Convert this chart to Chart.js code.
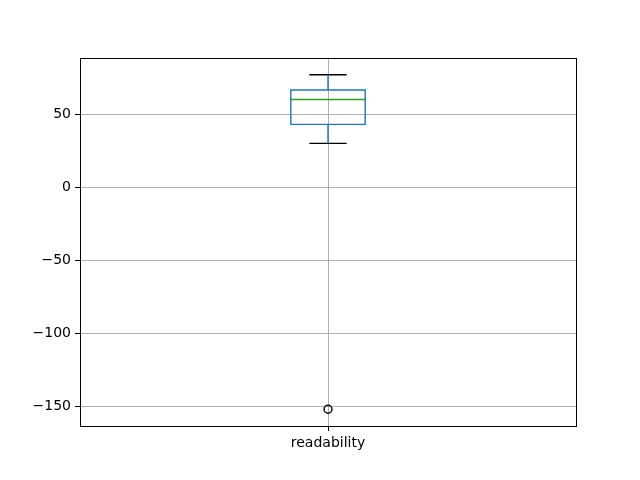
<!DOCTYPE html>
<html>
<head>
<meta charset="utf-8">
<script src="https://cdn.jsdelivr.net/npm/chart.js@4"></script>
<style>
  html, body { margin: 0; padding: 0; background: #fff; }
</style>
</head>
<body>
<canvas id="boxCanvas" width="640" height="480"></canvas>
<script>
// Boxplot stats (one column: readability)
const categories = ['readability'];
const q1 = [43];
const medians = [60];
const q3 = [66.5];
const whiskerLow = [30];
const whiskerHigh = [77];
const outliers = [[-152]];

const yTicks = [-150, -100, -50, 0, 50];

// Chart.js v4 has no boxplot type, so build one out of line segments on a linear x scale
const BOX_HALF = 0.075;
const CAP_HALF = 0.0375;
const LW = 1.4;

const datasets = [];
categories.forEach((name, i) => {
    const x = i + 1;
    // the box
    datasets.push({
        data: [
            { x: x - BOX_HALF, y: q1[i] }, { x: x + BOX_HALF, y: q1[i] },
            { x: x + BOX_HALF, y: q3[i] }, { x: x - BOX_HALF, y: q3[i] },
            { x: x - BOX_HALF, y: q1[i] }
        ],
        borderColor: '#1f77b4', borderWidth: LW
    });
    // median
    datasets.push({
        data: [{ x: x - BOX_HALF, y: medians[i] }, { x: x + BOX_HALF, y: medians[i] }],
        borderColor: '#2ca02c', borderWidth: LW
    });
    // whiskers
    datasets.push({
        data: [{ x: x, y: q1[i] }, { x: x, y: whiskerLow[i] }],
        borderColor: '#1f77b4', borderWidth: LW
    });
    datasets.push({
        data: [{ x: x, y: q3[i] }, { x: x, y: whiskerHigh[i] }],
        borderColor: '#1f77b4', borderWidth: LW
    });
    // caps
    datasets.push({
        data: [{ x: x - CAP_HALF, y: whiskerLow[i] }, { x: x + CAP_HALF, y: whiskerLow[i] }],
        borderColor: '#000', borderWidth: LW
    });
    datasets.push({
        data: [{ x: x - CAP_HALF, y: whiskerHigh[i] }, { x: x + CAP_HALF, y: whiskerHigh[i] }],
        borderColor: '#000', borderWidth: LW
    });
    // fliers
    datasets.push({
        data: outliers[i].map(v => ({ x: x, y: v })),
        showLine: false,
        pointRadius: 4,
        pointStyle: 'circle',
        pointBackgroundColor: 'rgba(0,0,0,0)',
        pointBorderColor: '#000',
        pointBorderWidth: LW
    });
});
datasets.forEach(d => {
    if (d.showLine === undefined) { d.showLine = true; d.pointRadius = 0; }
});

// matplotlib-like frame around the plot area
const framePlugin = {
    id: 'frame',
    afterDatasetsDraw(chart) {
        const { ctx, chartArea: a } = chart;
        ctx.save();
        ctx.strokeStyle = '#000';
        ctx.lineWidth = 1;
        ctx.strokeRect(Math.round(a.left) + 0.5, Math.round(a.top) + 0.5,
            Math.round(a.right - a.left), Math.round(a.bottom - a.top));
        ctx.restore();
    }
};

const allLow = Math.min(...whiskerLow, ...outliers.flat());
const allHigh = Math.max(...whiskerHigh, ...outliers.flat());
const margin = (allHigh - allLow) * 0.05;

new Chart(document.getElementById('boxCanvas').getContext('2d'), {
    type: 'scatter',
    data: { datasets: datasets },
    plugins: [framePlugin],
    options: {
        responsive: false,
        animation: false,
        layout: { padding: { left: 0, right: 64, top: 58, bottom: 0 } },
        plugins: { legend: { display: false }, tooltip: { enabled: false } },
        scales: {
            x: {
                type: 'linear',
                min: 0.5,
                max: categories.length + 0.5,
                afterBuildTicks(scale) {
                    scale.ticks = categories.map((c, i) => ({ value: i + 1 }));
                },
                afterFit(scale) { scale.height = 54; },
                ticks: {
                    color: '#000',
                    font: { family: 'DejaVu Sans', size: 14 },
                    padding: 4,
                    maxRotation: 0,
                    callback: (v) => categories[Math.round(v) - 1]
                },
                grid: { color: '#b0b0b0', lineWidth: 1, tickColor: '#000', tickLength: 5 },
                border: { color: '#000', width: 1 }
            },
            y: {
                min: allLow - margin,
                max: allHigh + margin,
                afterBuildTicks(scale) {
                    scale.ticks = yTicks.map(v => ({ value: v }));
                },
                afterFit(scale) { scale.width = 80; },
                ticks: {
                    color: '#000',
                    font: { family: 'DejaVu Sans', size: 14 },
                    padding: 4,
                    includeBounds: false,
                    callback: (v) => (v < 0 ? '\u2212' + Math.abs(v) : '' + v)
                },
                grid: { color: '#b0b0b0', lineWidth: 1, tickColor: '#000', tickLength: 5 },
                border: { color: '#000', width: 1 }
            }
        }
    }
});
</script>
</body>
</html>
